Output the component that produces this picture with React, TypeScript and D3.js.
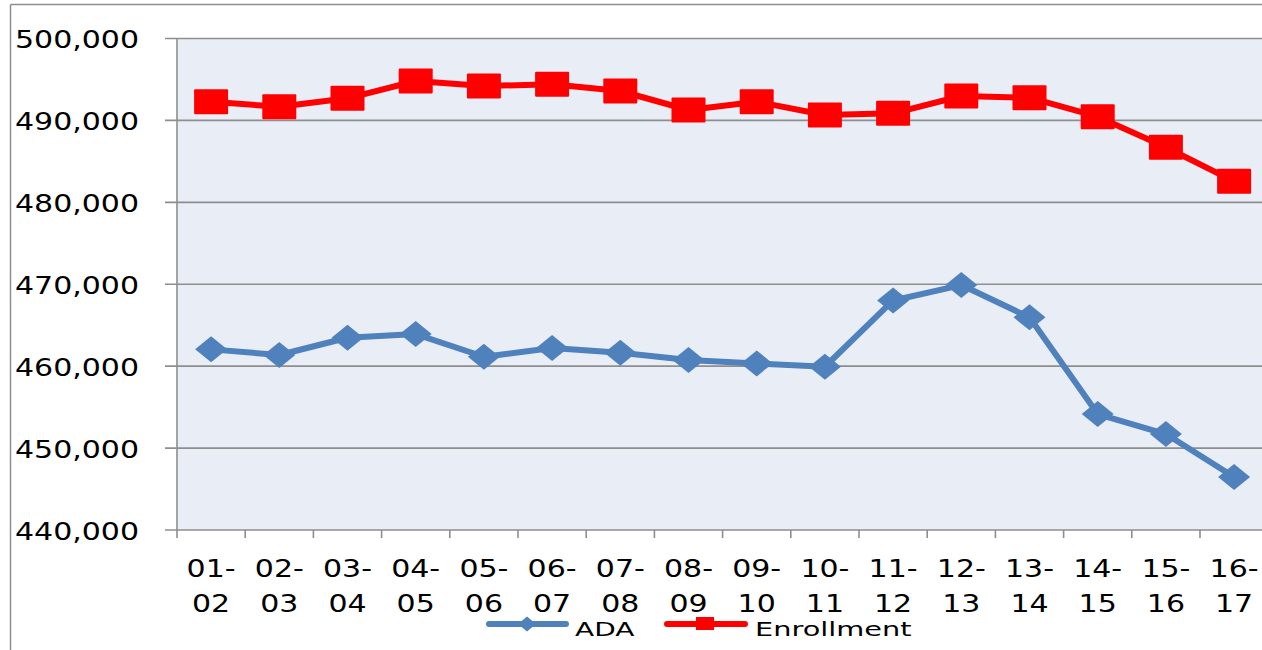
import React from "react";
import * as d3 from "d3";

const categories = ["01-02","02-03","03-04","04-05","05-06","06-07","07-08","08-09","09-10","10-11","11-12","12-13","13-14","14-15","15-16","16-17"];
const adaValues = [462050,461360,463470,463920,461150,462210,461640,460740,460340,459930,468020,469900,465960,454150,451710,446460];
const enrollmentValues = [492280,491670,492700,494810,494200,494410,493590,491270,492280,490660,490870,492980,492770,490450,486720,482560];
const yTicks = [440000,450000,460000,470000,480000,490000,500000];

const W = 1262, H = 650;
const PL = 177, PT = 38.5, PB = 530, STEP = 68.2;
const BLUE = "#4F81BD", RED = "#FF0000", GRID = "#8E8E8E";
const FONT = "DejaVu Sans, Verdana, sans-serif";

export default function App() {
  const x = d3.scaleBand<string>().domain(categories).range([PL, PL + STEP * categories.length]).padding(0);
  const y = d3.scaleLinear().domain([440000, 500000]).range([PB, PT]);
  const cx = (c: string) => (x(c) as number) + x.bandwidth() / 2;
  const line = d3.line<number>().x((_, i) => cx(categories[i])).y(d => y(d));
  const fmt = d3.format(",");
  const xEnd = PL + STEP * categories.length;

  return (
    <svg width={W} height={H} style={{ position: "absolute", left: 0, top: 0 }} fontFamily={FONT}>
      <rect x={0} y={0} width={W} height={H} fill="#fff" />
      {/* outer frame */}
      <line x1={10.5} y1={4.5} x2={W} y2={4.5} stroke={GRID} strokeWidth={1.5} />
      <line x1={10.5} y1={4.5} x2={10.5} y2={H} stroke={GRID} strokeWidth={1.5} />
      {/* plot area */}
      <rect x={PL} y={PT} width={xEnd - PL} height={PB - PT} fill="#E9EDF6" />
      {yTicks.map(t => (
        <g key={t}>
          <line x1={165} x2={xEnd} y1={y(t)} y2={y(t)} stroke={GRID} strokeWidth={1.6} />
          <g transform={`translate(139,${y(t) + 9.5}) scale(1.2,1)`}>
            <text textAnchor="end" fontSize={25} fill="#000">{fmt(t)}</text>
          </g>
        </g>
      ))}
      <line x1={PL} x2={PL} y1={PT} y2={PB + 8} stroke={GRID} strokeWidth={1.6} />
      {categories.map((c, i) => (
        <line key={"t" + i} x1={(x(c) as number) + STEP} x2={(x(c) as number) + STEP} y1={PB} y2={PB + 8} stroke={GRID} strokeWidth={1.6} />
      ))}
      {categories.map(c => {
        const [a, b] = c.split("-");
        return (
          <g key={c}>
            <g transform={`translate(${cx(c)},577) scale(1.2,1)`}>
              <text textAnchor="middle" fontSize={25} fill="#000">{a + "-"}</text>
            </g>
            <g transform={`translate(${cx(c)},612) scale(1.2,1)`}>
              <text textAnchor="middle" fontSize={25} fill="#000">{b}</text>
            </g>
          </g>
        );
      })}
      {/* series */}
      <path d={line(adaValues) || ""} fill="none" stroke={BLUE} strokeWidth={6} strokeLinejoin="round" />
      {adaValues.map((v, i) => {
        const px = cx(categories[i]), py = y(v);
        return <path key={"a" + i} d={`M${px - 16},${py}L${px},${py - 13}L${px + 16},${py}L${px},${py + 13}Z`} fill={BLUE} />;
      })}
      <path d={line(enrollmentValues) || ""} fill="none" stroke={RED} strokeWidth={6} strokeLinejoin="round" />
      {enrollmentValues.map((v, i) => {
        const px = cx(categories[i]), py = y(v);
        return <rect key={"e" + i} x={px - 17} y={py - 12.5} width={34} height={25} fill={RED} rx={1} />;
      })}
      {/* legend */}
      <line x1={489} x2={566} y1={624} y2={624} stroke={BLUE} strokeWidth={6} strokeLinecap="round" />
      <path d="M518,624L527,616.5L536,624L527,631.5Z" fill={BLUE} />
      <g transform="translate(575,636) scale(1.4,1)">
        <text fontSize={20} fill="#000">ADA</text>
      </g>
      <line x1={667} x2={745} y1={624} y2={624} stroke={RED} strokeWidth={6} strokeLinecap="round" />
      <rect x={696} y={617} width={18} height={13} fill={RED} />
      <g transform="translate(755,636) scale(1.44,1)">
        <text fontSize={20} fill="#000">Enrollment</text>
      </g>
    </svg>
  );
}
